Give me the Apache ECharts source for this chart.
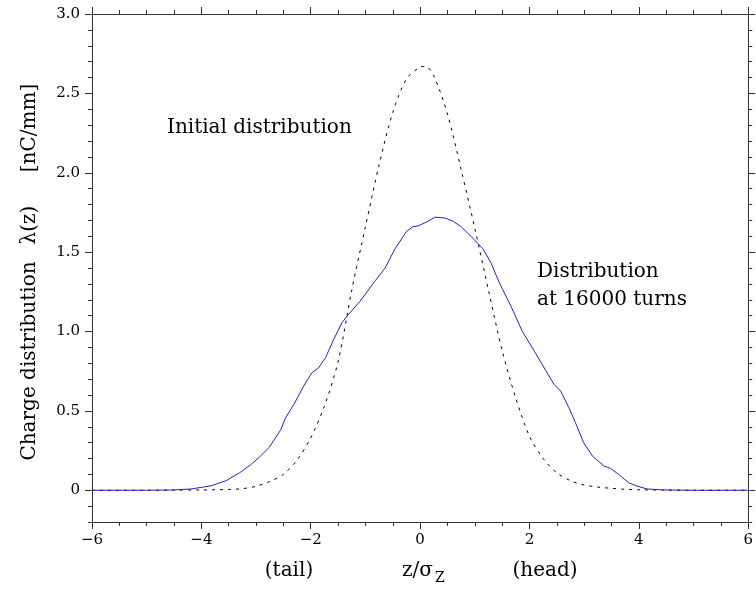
<!DOCTYPE html>
<html>
<head>
<meta charset="utf-8">
<script src="https://cdn.jsdelivr.net/npm/echarts@6/dist/echarts.min.js"></script>
<style>
  html, body { margin: 0; padding: 0; background: #fff; }
  #chart01 { width: 756px; height: 593px; }
</style>
</head>
<body>
<div id="chart01"></div>
<script>
// initial distribution (dashed)
var zInitial = [-6, -5, -4.5, -4, -3.75, -3.5, -3.25, -3, -2.75, -2.5, -2.25, -2, -1.75, -1.5, -1.25, -1,
    -0.75, -0.5, -0.25, 0, 0.1, 0.25, 0.5, 0.75, 1, 1.25, 1.5, 1.75, 2, 2.25, 2.5, 2.75, 3, 3.25, 3.5,
    3.75, 4, 4.5, 5, 6];
var lambdaInitial = [0, 0, 0.001, 0.002, 0.003, 0.005, 0.01, 0.025, 0.055, 0.1, 0.19, 0.33, 0.53, 0.81, 1.26, 1.66,
    2.05, 2.38, 2.59, 2.665, 2.67, 2.61, 2.37, 2.02, 1.65, 1.26, 0.88, 0.58, 0.34, 0.2, 0.11, 0.06, 0.033, 0.02, 0.012,
    0.006, 0.003, 0.001, 0, 0];

// distribution at 16000 turns (blue)
var zTurns = [-6, -5, -4.5, -4.2, -4, -3.8, -3.55, -3.3, -3.1, -2.95, -2.76, -2.55, -2.46, -2.31, -2.13, -1.98,
    -1.86, -1.73, -1.58, -1.43, -1.31, -1.1, -0.82, -0.64, -0.46, -0.25, -0.13, -0.04, 0.12, 0.27, 0.45,
    0.6, 0.75, 0.93, 1.15, 1.3, 1.42, 1.51, 1.66, 1.87, 2.09, 2.27, 2.45, 2.57, 2.72, 2.84, 2.99, 3.15,
    3.36, 3.48, 3.63, 3.81, 3.96, 4.15, 4.45, 5, 6];
var lambdaTurns = [0, 0, 0.002, 0.008, 0.018, 0.03, 0.06, 0.11, 0.16, 0.205, 0.27, 0.38, 0.457, 0.54, 0.656, 0.74,
    0.77, 0.835, 0.95, 1.055, 1.107, 1.19, 1.32, 1.4, 1.52, 1.63, 1.66, 1.665, 1.69, 1.72, 1.715,
    1.695, 1.66, 1.6, 1.52, 1.43, 1.33, 1.264, 1.16, 1.0, 0.876, 0.77, 0.667, 0.625, 0.52, 0.426, 0.3, 0.216,
    0.153, 0.138, 0.1, 0.048, 0.027, 0.008, 0.002, 0, 0];

var yMajorTicks = [0, 0.5, 1.0, 1.5, 2.0, 2.5, 3.0];

function pairs(xs, ys) {
    return xs.map(function (x, i) { return [x, ys[i]]; });
}

function chart01(id) {
    var myChart = echarts.init(document.getElementById(id));
    var font = 'DejaVu Serif';
    var lineColor = '#333333';

    function xAxis(pos, showLabel) {
        return {
            type: 'value',
            position: pos,
            min: -6,
            max: 6,
            interval: 2,
            axisLine: { show: true, onZero: false, lineStyle: { color: lineColor, width: 1 } },
            axisTick: { show: true, inside: false, length: 7, lineStyle: { color: lineColor } },
            minorTick: { show: true, splitNumber: 4, length: 4, lineStyle: { color: lineColor } },
            splitLine: { show: false },
            minorSplitLine: { show: false },
            axisLabel: {
                show: showLabel,
                margin: 11,
                fontFamily: font,
                fontSize: 15,
                color: '#000',
                formatter: function (v) { return v < 0 ? '\u2212' + Math.abs(v) : String(v); }
            }
        };
    }

    function yMajor(pos, showLabel) {
        return {
            type: 'value',
            position: pos,
            min: -0.2,
            max: 3.0,
            axisLine: { show: true, onZero: false, lineStyle: { color: lineColor, width: 1 } },
            axisTick: { show: true, length: 7, customValues: yMajorTicks, lineStyle: { color: lineColor } },
            splitLine: { show: false },
            axisLabel: {
                show: showLabel,
                customValues: yMajorTicks,
                margin: 12,
                fontFamily: font,
                fontSize: 15,
                color: '#000',
                formatter: function (v) { return v === 0 ? '0' : v.toFixed(1); }
            }
        };
    }

    function yMinor(pos) {
        return {
            type: 'value',
            position: pos,
            min: -0.2,
            max: 3.0,
            interval: 0.1,
            axisLine: { show: false, onZero: false },
            axisTick: { show: true, length: 4, lineStyle: { color: lineColor } },
            splitLine: { show: false },
            axisLabel: { show: false }
        };
    }

    var option = {
        animation: false,
        grid: {
            left: 92,
            right: 3,
            top: 14,
            bottom: 71
        },
        xAxis: [xAxis('bottom', true), xAxis('top', false)],
        yAxis: [yMajor('left', true), yMinor('left'), yMajor('right', false), yMinor('right')],
        graphic: [
            { type: 'text', x: 30, y: 361, rotation: Math.PI / 2,
              style: { text: 'Charge distribution', font: '20px "DejaVu Serif"', fill: '#000', align: 'center', verticalAlign: 'middle' } },
            { type: 'text', x: 30, y: 225, rotation: Math.PI / 2,
              style: { text: '\u03bb(z)', font: '20px "DejaVu Serif"', fill: '#000', align: 'center', verticalAlign: 'middle' } },
            { type: 'text', x: 30, y: 128, rotation: Math.PI / 2,
              style: { text: '[nC/mm]', font: '20px "DejaVu Serif"', fill: '#000', align: 'center', verticalAlign: 'middle' } },
            { type: 'text', x: 289, y: 571,
              style: { text: '(tail)', font: '20px "DejaVu Serif"', fill: '#000', align: 'center', verticalAlign: 'middle' } },
            { type: 'text', x: 433, y: 571,
              style: { text: 'z/\u03c3', font: '20px "DejaVu Serif"', fill: '#000', align: 'right', verticalAlign: 'middle' } },
            { type: 'text', x: 435, y: 578,
              style: { text: 'Z', font: '14px "DejaVu Serif"', fill: '#000', align: 'left', verticalAlign: 'middle' } },
            { type: 'text', x: 545, y: 571,
              style: { text: '(head)', font: '20px "DejaVu Serif"', fill: '#000', align: 'center', verticalAlign: 'middle' } },
            { type: 'text', x: 167, y: 128,
              style: { text: 'Initial distribution', font: '20px "DejaVu Serif"', fill: '#000', align: 'left', verticalAlign: 'middle' } },
            { type: 'text', x: 537, y: 272,
              style: { text: 'Distribution', font: '20px "DejaVu Serif"', fill: '#000', align: 'left', verticalAlign: 'middle' } },
            { type: 'text', x: 537, y: 300,
              style: { text: 'at 16000 turns', font: '20px "DejaVu Serif"', fill: '#000', align: 'left', verticalAlign: 'middle' } }
        ],
        series: [
            {
                name: 'Initial distribution',
                type: 'line',
                xAxisIndex: 0,
                yAxisIndex: 0,
                showSymbol: false,
                smooth: 0.3,
                lineStyle: { color: '#000', width: 1, type: [3, 5] },
                data: pairs(zInitial, lambdaInitial)
            },
            {
                name: 'Distribution at 16000 turns',
                type: 'line',
                xAxisIndex: 0,
                yAxisIndex: 0,
                showSymbol: false,
                lineStyle: { color: '#2222bb', width: 1 },
                data: pairs(zTurns, lambdaTurns)
            }
        ]
    };

    myChart.setOption(option);
    return myChart;
}

var chartInit01 = chart01('chart01');
window.addEventListener('resize', function () { chartInit01.resize(); });
</script>
</body>
</html>
